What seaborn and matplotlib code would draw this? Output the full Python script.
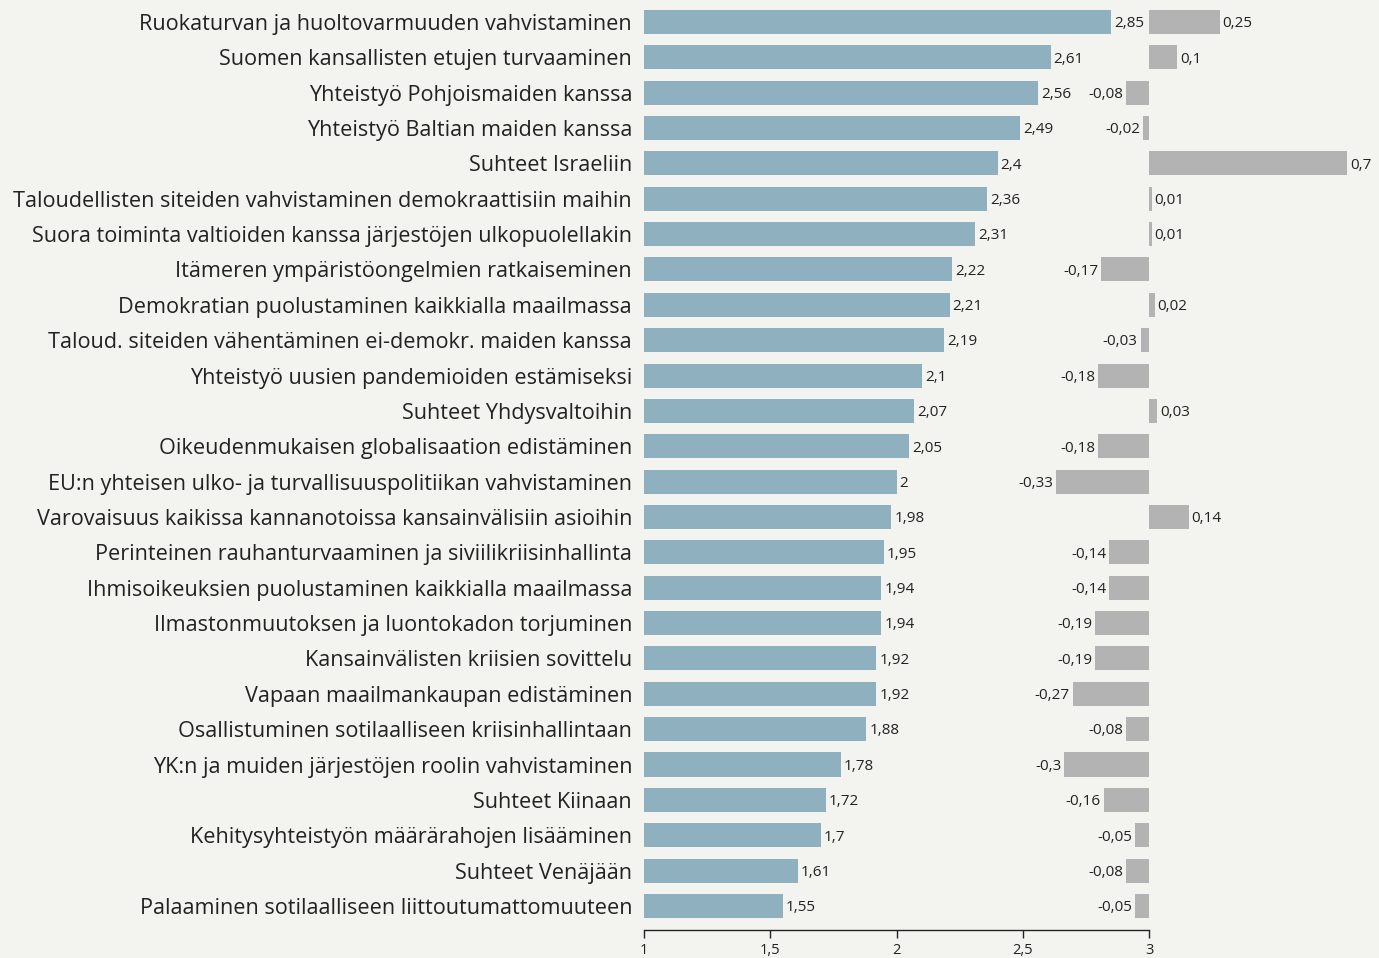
import matplotlib
matplotlib.use("Agg")
import matplotlib.pyplot as plt
import seaborn as sns
import pandas as pd

categories = [
    "Ruokaturvan ja huoltovarmuuden vahvistaminen",
    "Suomen kansallisten etujen turvaaminen",
    "Yhteistyö Pohjoismaiden kanssa",
    "Yhteistyö Baltian maiden kanssa",
    "Suhteet Israeliin",
    "Taloudellisten siteiden vahvistaminen demokraattisiin maihin",
    "Suora toiminta valtioiden kanssa järjestöjen ulkopuolellakin",
    "Itämeren ympäristöongelmien ratkaiseminen",
    "Demokratian puolustaminen kaikkialla maailmassa",
    "Taloud. siteiden vähentäminen ei-demokr. maiden kanssa",
    "Yhteistyö uusien pandemioiden estämiseksi",
    "Suhteet Yhdysvaltoihin",
    "Oikeudenmukaisen globalisaation edistäminen",
    "EU:n yhteisen ulko- ja turvallisuuspolitiikan vahvistaminen",
    "Varovaisuus kaikissa kannanotoissa kansainvälisiin asioihin",
    "Perinteinen rauhanturvaaminen ja siviilikriisinhallinta",
    "Ihmisoikeuksien puolustaminen kaikkialla maailmassa",
    "Ilmastonmuutoksen ja luontokadon torjuminen",
    "Kansainvälisten kriisien sovittelu",
    "Vapaan maailmankaupan edistäminen",
    "Osallistuminen sotilaalliseen kriisinhallintaan",
    "YK:n ja muiden järjestöjen roolin vahvistaminen",
    "Suhteet Kiinaan",
    "Kehitysyhteistyön määrärahojen lisääminen",
    "Suhteet Venäjään",
    "Palaaminen sotilaalliseen liittoutumattomuuteen",
]
scores = [2.85, 2.61, 2.56, 2.49, 2.4, 2.36, 2.31, 2.22, 2.21, 2.19, 2.1, 2.07,
          2.05, 2.0, 1.98, 1.95, 1.94, 1.94, 1.92, 1.92, 1.88, 1.78, 1.72, 1.7,
          1.61, 1.55]
changes = [0.25, 0.1, -0.08, -0.02, 0.7, 0.01, 0.01, -0.17, 0.02, -0.03, -0.18,
           0.03, -0.18, -0.33, 0.14, -0.14, -0.14, -0.19, -0.19, -0.27, -0.08,
           -0.3, -0.16, -0.05, -0.08, -0.05]
tick_values = [1, 1.5, 2, 2.5, 3]
tick_labels = ["1", "1,5", "2", "2,5", "3"]

df = pd.DataFrame({"category": categories, "score": scores, "change": changes})

BG = "#f3f4ef"
BLUE = "#8fb0bf"
GRAY = "#b3b3b3"
TXT = "#222222"

sns.set_theme(style="white")
plt.rcParams["font.family"] = ["Open Sans", "DejaVu Sans"]

W, H = 1379, 958
fig = plt.figure(figsize=(W / 100, H / 100), dpi=100, facecolor=BG)

bottom = 1 - 930 / H
height = 930 / H
ax = fig.add_axes([644 / W, bottom, (1149 - 644) / W, height])
ax.set_facecolor("none")

def fmt(v):
    return f"{v:g}".replace(".", ",")

sns.barplot(data=df, x="score", y="category", orient="h", color=BLUE,
            saturation=1, width=0.68, linewidth=0, ax=ax)
ax.set_xlim(1, 3)
ax.set_ylim(25.68, -0.62)
ax.set_xticks(tick_values)
ax.set_xticklabels(tick_labels, fontsize=10.5, color=TXT)
ax.tick_params(axis="x", direction="out", length=6, width=1, color=TXT, pad=3,
               bottom=True)
ax.tick_params(axis="y", length=0, pad=8.6, labelsize=15.6, labelcolor=TXT)
ax.set_xlabel("")
ax.set_ylabel("")
for s in ["top", "right", "left"]:
    ax.spines[s].set_visible(False)
ax.spines["bottom"].set_color(TXT)
ax.spines["bottom"].set_linewidth(1)
dy = 0.05
for i, v in enumerate(scores):
    ax.text(v + 0.012, i + dy, fmt(v), va="center", ha="left", fontsize=11, color=TXT)

# right panel: change
scale = 283.0
x0 = 1000
ax2 = fig.add_axes([x0 / W, bottom, (W - x0) / W, height])
ax2.set_facecolor("none")
sns.barplot(data=df, x="change", y="category", orient="h", color=GRAY,
            saturation=1, width=0.68, linewidth=0, ax=ax2)
ax2.set_xlim((x0 - 1149) / scale, (W - 1149) / scale)
ax2.set_ylim(25.68, -0.62)
ax2.axis("off")
for i, v in enumerate(changes):
    if v >= 0:
        ax2.text(v + 0.01, i + dy, fmt(v), va="center", ha="left", fontsize=11, color=TXT)
    else:
        ax2.text(v - 0.01, i + dy, fmt(v), va="center", ha="right", fontsize=11, color=TXT)

fig.savefig("out.png", dpi=100, facecolor=BG)
